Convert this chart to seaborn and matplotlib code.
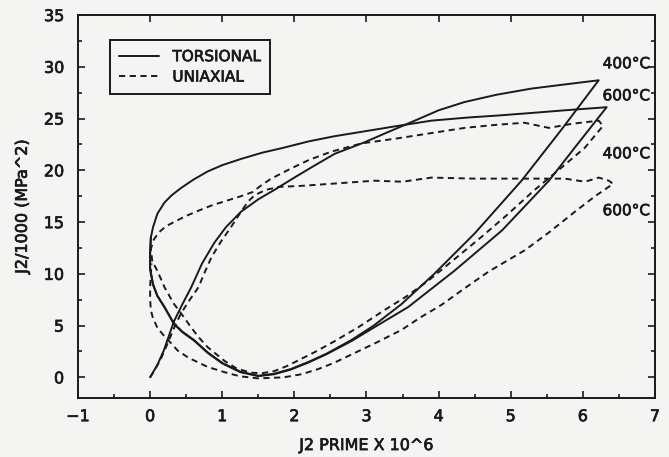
import numpy as np
import pandas as pd
import matplotlib
matplotlib.use("Agg")
import matplotlib.pyplot as plt
import matplotlib.patheffects as pe
from matplotlib.lines import Line2D
from matplotlib.ticker import MultipleLocator
import seaborn as sns

# --- torsional 400 C: initial loading, unloading and return to the J2 axis
tors400_x = [0.00, 0.10, 0.19, 0.33, 0.45, 0.57, 0.72, 0.89, 1.05, 1.26, 1.50, 1.72, 2.00, 2.24, 2.56,
             2.97, 3.30, 3.67, 4.00, 4.36, 4.80, 5.29, 5.75, 6.22,
             5.70, 5.15, 4.50, 3.94, 3.49, 3.10, 2.79, 2.45, 2.20, 1.95, 1.72, 1.50, 1.25, 1.00, 0.80,
             0.61, 0.45, 0.33, 0.20, 0.10, 0.04, 0.00, 0.00, 0.01]
tors400_y = [0.0, 1.2, 2.6, 5.4, 7.1, 8.7, 11.0, 13.0, 14.5, 16.0, 17.2, 18.1, 19.3, 20.3, 21.6,
             22.7, 23.7, 24.8, 25.8, 26.6, 27.3, 27.9, 28.3, 28.7,
             23.9, 19.0, 13.9, 10.0, 7.1, 5.0, 3.6, 2.3, 1.5, 0.8, 0.35, 0.15, 0.55, 1.4, 2.4,
             3.6, 4.4, 5.2, 6.8, 7.9, 9.0, 10.5, 12.0, 13.5]

# --- torsional 600 C: stabilised loop
tors600_x = [0.00, 0.01, 0.04, 0.10, 0.20, 0.30, 0.43, 0.60, 0.80, 1.00, 1.26, 1.55, 1.86, 2.20, 2.56,
             3.00, 3.44, 3.90, 4.40, 4.83, 5.30, 5.75, 6.33,
             5.90, 5.53, 4.88, 4.22, 3.58, 3.10, 2.79, 2.45, 2.20, 1.95, 1.72, 1.50, 1.25, 1.00, 0.80,
             0.61, 0.45, 0.33, 0.20, 0.10, 0.04, 0.00, 0.00]
tors600_y = [12.0, 13.5, 14.5, 15.8, 16.9, 17.6, 18.3, 19.1, 19.9, 20.5, 21.1, 21.7, 22.2, 22.8, 23.3,
             23.8, 24.3, 24.8, 25.1, 25.3, 25.55, 25.8, 26.1,
             22.3, 19.0, 14.2, 10.3, 6.8, 4.8, 3.5, 2.25, 1.45, 0.75, 0.3, 0.12, 0.5, 1.35, 2.35,
             3.55, 4.35, 5.15, 6.75, 7.85, 8.95, 10.5, 12.0]

# --- uniaxial 400 C
uni400_x = [0.03, 0.01, 0.05, 0.12, 0.22, 0.33, 0.50, 0.67, 0.85, 1.03, 1.26, 1.42, 1.55, 1.68, 1.96,
            2.20, 2.51, 2.93, 3.44, 3.90, 4.36, 4.80, 5.19, 5.53, 5.85, 6.22, 6.28,
            6.03, 5.71, 5.33, 4.95, 4.60, 4.20, 3.85, 3.55, 3.25, 2.90, 2.56, 2.30, 2.10, 1.90, 1.72,
            1.55, 1.40, 1.20, 1.03, 0.80, 0.67, 0.55, 0.47, 0.33, 0.20, 0.10, 0.03]
uni400_y = [11.2, 12.4, 13.3, 14.0, 14.6, 15.0, 15.6, 16.1, 16.6, 17.0, 17.5, 17.9, 18.6, 19.2, 20.2,
            21.0, 21.8, 22.6, 23.1, 23.6, 24.1, 24.4, 24.6, 24.1, 24.5, 24.8, 24.3,
            22.2, 20.3, 18.1, 15.7, 13.6, 11.3, 9.3, 7.8, 6.5, 4.9, 3.5, 2.5, 1.8, 1.1, 0.6,
            0.4, 0.45, 0.85, 1.6, 2.9, 3.9, 5.0, 5.8, 7.1, 8.7, 10.3, 11.2]

# --- uniaxial 600 C
uni600_x = [0.00, 0.08, 0.15, 0.25, 0.34, 0.43, 0.55, 0.67, 0.76, 0.85, 0.98, 1.12, 1.26, 1.36, 1.45,
            1.60, 1.78, 2.10, 2.51, 3.11, 3.50, 3.90, 4.50, 5.15, 5.75, 6.03, 6.22, 6.36, 6.42,
            6.17, 5.89, 5.53, 5.20, 4.69, 4.36, 4.04, 3.75, 3.49, 3.15, 2.79, 2.55, 2.33, 2.10, 1.85,
            1.50, 1.25, 1.08, 0.80, 0.53, 0.38, 0.29, 0.17, 0.10, 0.04, 0.01, 0.00, 0.00, 0.01, 0.02]
uni600_y = [0.0, 0.9, 1.8, 3.4, 4.9, 6.2, 7.5, 8.7, 10.2, 11.6, 13.1, 14.5, 16.0, 17.0, 17.6,
            18.1, 18.4, 18.5, 18.7, 19.0, 18.9, 19.3, 19.2, 19.2, 19.2, 18.9, 19.3, 19.0, 18.7,
            17.5, 16.0, 14.0, 12.3, 10.2, 8.6, 7.0, 5.8, 4.6, 3.4, 2.2, 1.4, 0.8, 0.3, 0.0,
            -0.1, 0.1, 0.4, 1.0, 1.9, 2.6, 3.3, 4.2, 4.8, 5.7, 6.5, 7.6, 8.7, 10.0, 11.0]

# temperature labels placed beside the loop tips
temp_labels = ["400°C", "600°C", "400°C", "600°C"]
temp_label_y = [30.3, 27.2, 21.6, 16.1]

legend_labels = ["TORSIONAL", "UNIAXIAL"]

sns.set_style("ticks")
plt.rcParams["font.family"] = ["DejaVu Sans"]
bg = "#f4f4f3"
ink = "#1a1a1a"
heavy = [pe.withStroke(linewidth=0.5, foreground=ink)]

fig = plt.figure(figsize=(6.69, 4.57), dpi=100, facecolor=bg)
ax = fig.add_axes([0.1166, 0.129, 0.8624, 0.838])
ax.set_facecolor(bg)

solid = dict(color=ink, linewidth=1.4, linestyle="-")
dashed = dict(color=ink, linewidth=1.4, linestyle=(0, (3.2, 2.3)))

series = [
    (tors400_x, tors400_y, solid),
    (tors600_x, tors600_y, solid),
    (uni400_x, uni400_y, dashed),
    (uni600_x, uni600_y, dashed),
]
for xs, ys, style in series:
    df = pd.DataFrame({"x": xs, "y": ys})
    sns.lineplot(data=df, x="x", y="y", sort=False, estimator=None, ax=ax, **style)

for lab, yv in zip(temp_labels, temp_label_y):
    ax.text(6.93, yv, lab, ha="right", va="center", fontsize=11, color=ink, path_effects=heavy)

ax.set_xlim(-1, 7)
ax.set_ylim(-2, 35)
ax.xaxis.set_major_locator(MultipleLocator(1))
ax.xaxis.set_minor_locator(MultipleLocator(0.5))
ax.yaxis.set_major_locator(MultipleLocator(5))
ax.yaxis.set_minor_locator(MultipleLocator(2.5))

ax.tick_params(which="both", direction="in", top=True, right=True, color=ink,
               labelcolor=ink, width=1.2, labelsize=11.5)
ax.tick_params(which="major", length=5)
ax.tick_params(which="minor", length=3, top=False)
ax.tick_params(axis="x", which="major", pad=8)
ax.tick_params(axis="y", which="major", pad=10)
for lbl in ax.get_xticklabels() + ax.get_yticklabels():
    lbl.set_path_effects(heavy)

for sp in ax.spines.values():
    sp.set_linewidth(1.4)
    sp.set_color(ink)

ax.set_xlabel("J2 PRIME X 10^6", fontsize=11.5, color=ink, labelpad=10, path_effects=heavy)
ax.set_ylabel("J2/1000 (MPa^2)", fontsize=11.5, color=ink, labelpad=10, path_effects=heavy)

handles = [Line2D([], [], **solid), Line2D([], [], **dashed)]
leg = ax.legend(handles, legend_labels, loc="upper left", bbox_to_anchor=(0.055, 0.935),
                borderaxespad=0, fancybox=False, framealpha=1, facecolor=bg,
                edgecolor=ink, fontsize=11, handlelength=2.6, borderpad=0.6,
                labelspacing=0.35, handletextpad=0.9)
leg.get_frame().set_linewidth(1.4)
for t in leg.get_texts():
    t.set_color(ink)
    t.set_path_effects(heavy)

fig.savefig("out.png", dpi=100, facecolor=bg)
